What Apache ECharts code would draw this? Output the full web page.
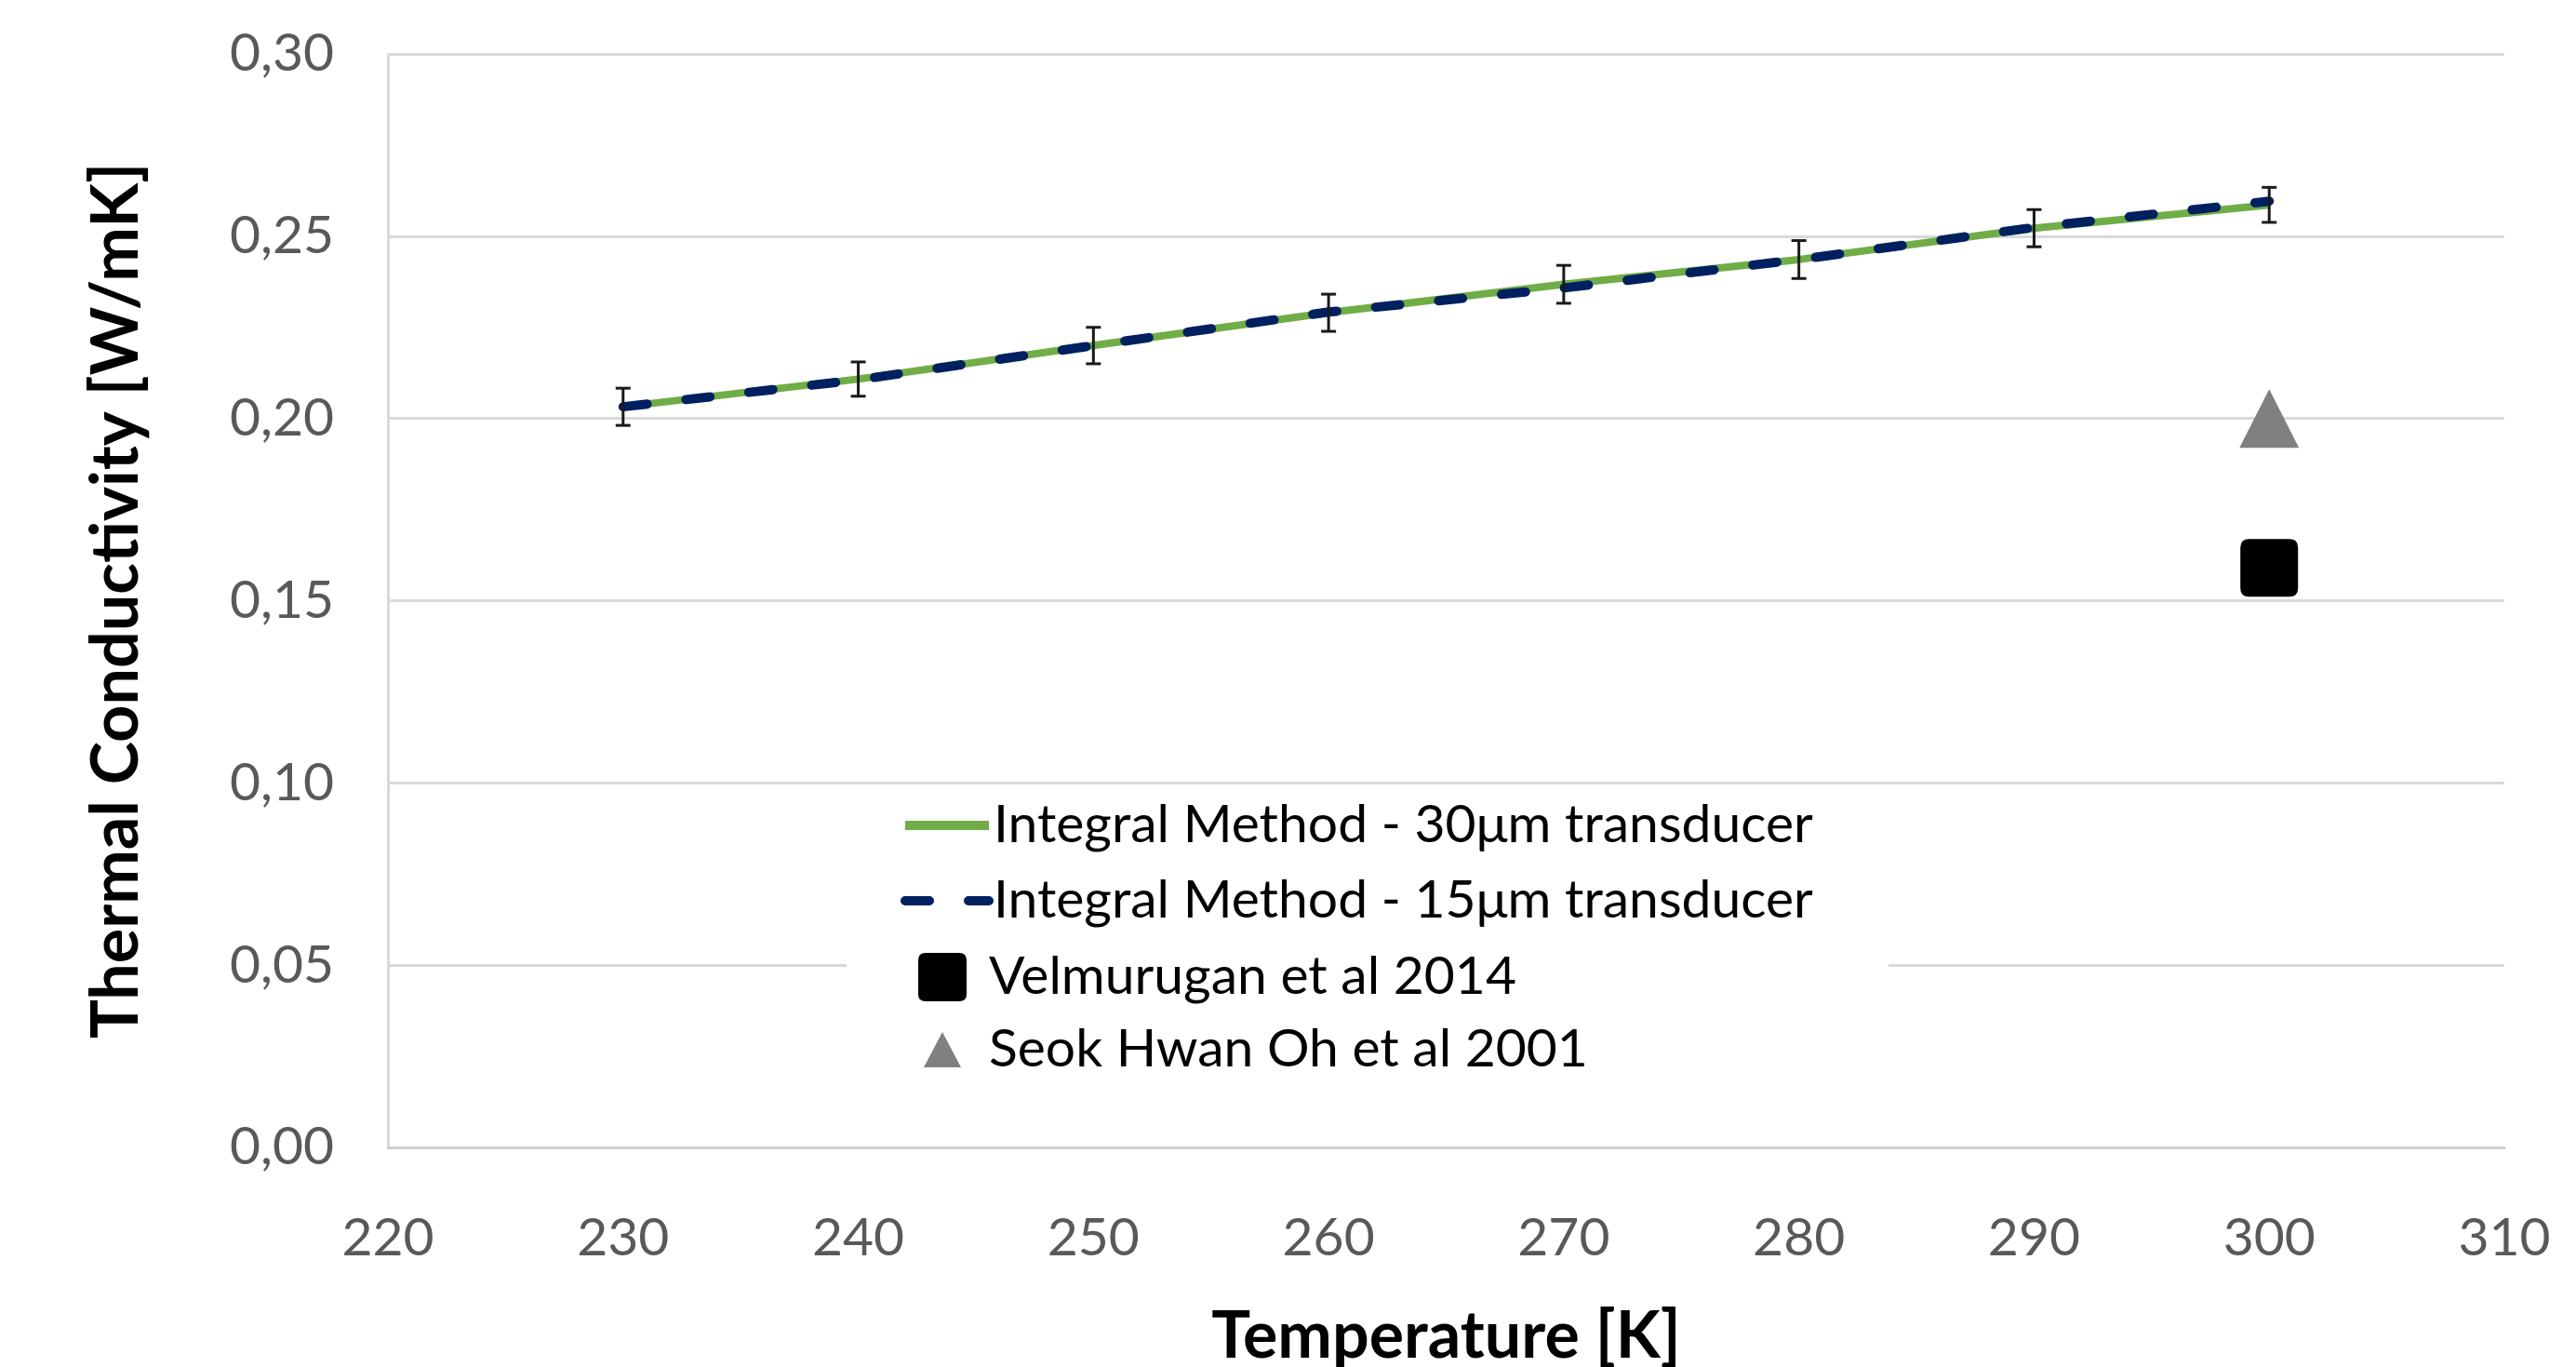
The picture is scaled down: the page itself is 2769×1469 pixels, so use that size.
<!DOCTYPE html>
<html>
<head>
<meta charset="utf-8">
<title>Thermal Conductivity</title>
<script src="https://cdn.jsdelivr.net/npm/echarts@6/dist/echarts.min.js"></script>
<style>
  html, body { margin: 0; padding: 0; background: #fff; }
  #chart { width: 2769px; height: 1469px; }
</style>
</head>
<body>
<div id="chart"></div>
<script>
/* Thermal conductivity vs temperature (ECharts). */

// temperatures [K]
const temps = [230, 240, 250, 260, 270, 280, 290, 300];
// integral method, 30um transducer [W/mK]
const k30 = [0.2032, 0.2108, 0.2200, 0.2290, 0.2368, 0.2436, 0.2522, 0.2586];
// integral method, 15um transducer [W/mK]
const k15 = [0.2032, 0.2106, 0.2200, 0.2292, 0.2358, 0.2436, 0.2524, 0.2596];
// error bar half-heights on the 30um curve
const k30Err = [0.0051, 0.0047, 0.0050, 0.0051, 0.0052, 0.0052, 0.0051, 0.0048];
// literature points
const velmurugan = [[300, 0.159]];
const seokHwanOh = [[300, 0.20]];

const names = [
  "Integral Method - 30μm transducer",
  "Integral Method - 15μm transducer",
  "Velmurugan et al 2014",
  "Seok Hwan Oh et al 2001",
];

(function () {
  "use strict";

  const FONT = "Lato";
  const SQUARE = "path://M3,0 H17 Q20,0 20,3 V17 Q20,20 17,20 H3 Q0,20 0,17 V3 Q0,0 3,0 Z";
  const TRIANGLE = "path://M10,0 L20,19 L0,19 Z";

  const chart = echarts.init(document.getElementById("chart"));

  function renderErrorBar(params, api) {
    const x = api.value(0);
    const lo = api.coord([x, api.value(1)]);
    const hi = api.coord([x, api.value(2)]);
    const half = 8;
    const style = { stroke: "#1a1a1a", lineWidth: 3 };
    return {
      type: "group",
      children: [
        { type: "line", shape: { x1: lo[0], y1: lo[1], x2: hi[0], y2: hi[1] }, style },
        { type: "line", shape: { x1: hi[0] - half, y1: hi[1], x2: hi[0] + half, y2: hi[1] }, style },
        { type: "line", shape: { x1: lo[0] - half, y1: lo[1], x2: lo[0] + half, y2: lo[1] }, style },
      ],
    };
  }

  const legendText = { fontFamily: FONT, fontSize: 57, lineHeight: 60, color: "#000" };
  const hideDot = { opacity: 0 };

  chart.setOption({
    backgroundColor: "#fff",
    animation: false,
    textStyle: { fontFamily: FONT },
    grid: { left: 417, right: 77, top: 58, bottom: 236, outerBoundsMode: "none" },
    xAxis: {
      type: "value",
      min: 220,
      max: 310,
      interval: 10,
      name: "Temperature [K]",
      nameLocation: "middle",
      nameGap: 168,
      nameTextStyle: { fontFamily: FONT, fontSize: 70, fontWeight: "bold", color: "#000" },
      axisLine: { show: true, lineStyle: { color: "#cfcfcf", width: 3 } },
      axisTick: { show: false },
      splitLine: { show: false },
      axisLabel: { fontFamily: FONT, fontSize: 57, color: "#595959", margin: 69 },
    },
    yAxis: {
      type: "value",
      min: 0,
      max: 0.3,
      interval: 0.05,
      name: "Thermal Conductivity [W/mK]",
      nameLocation: "middle",
      nameGap: 257,
      nameTextStyle: { fontFamily: FONT, fontSize: 70, fontWeight: "bold", color: "#000" },
      axisLine: { show: true, lineStyle: { color: "#d9d9d9", width: 3 } },
      axisTick: { show: false },
      splitLine: { lineStyle: { color: "#d9d9d9", width: 3 } },
      axisLabel: {
        fontFamily: FONT,
        fontSize: 57,
        color: "#595959",
        margin: 58,
        formatter: (v) => v.toFixed(2).replace(".", ","),
      },
    },
    legend: [
      {
        data: [
          { name: names[0], lineStyle: { width: 10 }, itemStyle: hideDot },
          { name: names[1], lineStyle: { width: 10 }, itemStyle: hideDot },
        ],
        orient: "vertical",
        left: 968,
        top: 857,
        padding: 0,
        itemWidth: 90,
        itemHeight: 12,
        itemGap: 21,
        selectedMode: false,
        textStyle: legendText,
      },
      {
        // the box is white so it hides the 0,05 grid line, as in the source
        data: [{ name: names[2], icon: SQUARE }],
        left: 910,
        top: 1020,
        padding: [0, 400, 0, 77],
        backgroundColor: "#fff",
        itemWidth: 90,
        itemHeight: 52,
        symbolKeepAspect: true,
        selectedMode: false,
        textStyle: legendText,
      },
      {
        data: [{ name: names[3], icon: TRIANGLE }],
        left: 993,
        top: 1098,
        padding: 0,
        itemWidth: 90,
        itemHeight: 38,
        symbolKeepAspect: true,
        selectedMode: false,
        textStyle: legendText,
      },
    ],
    series: [
      {
        name: names[0],
        type: "line",
        data: temps.map((t, i) => [t, k30[i]]),
        symbol: "none",
        showSymbol: false,
        color: "#70ad47",
        lineStyle: { color: "#70ad47", width: 8 },
        z: 2,
      },
      {
        name: names[1],
        type: "line",
        data: temps.map((t, i) => [t, k15[i]]),
        symbol: "none",
        showSymbol: false,
        color: "#002060",
        lineStyle: { color: "#002060", width: 10, type: [26, 42], cap: "round" },
        z: 3,
      },
      {
        name: "errors",
        type: "custom",
        renderItem: renderErrorBar,
        data: temps.map((t, i) => [t, k30[i] - k30Err[i], k30[i] + k30Err[i]]),
        encode: { x: 0, y: [1, 2] },
        z: 4,
        silent: true,
      },
      {
        name: names[2],
        type: "scatter",
        data: velmurugan,
        symbol: SQUARE,
        symbolSize: 62,
        itemStyle: { color: "#000", opacity: 1 },
        z: 5,
      },
      {
        name: names[3],
        type: "scatter",
        data: seokHwanOh,
        symbol: "triangle",
        symbolSize: [64, 63],
        itemStyle: { color: "#808080", opacity: 1 },
        z: 5,
      },
    ],
  });
})();
</script>
</body>
</html>
